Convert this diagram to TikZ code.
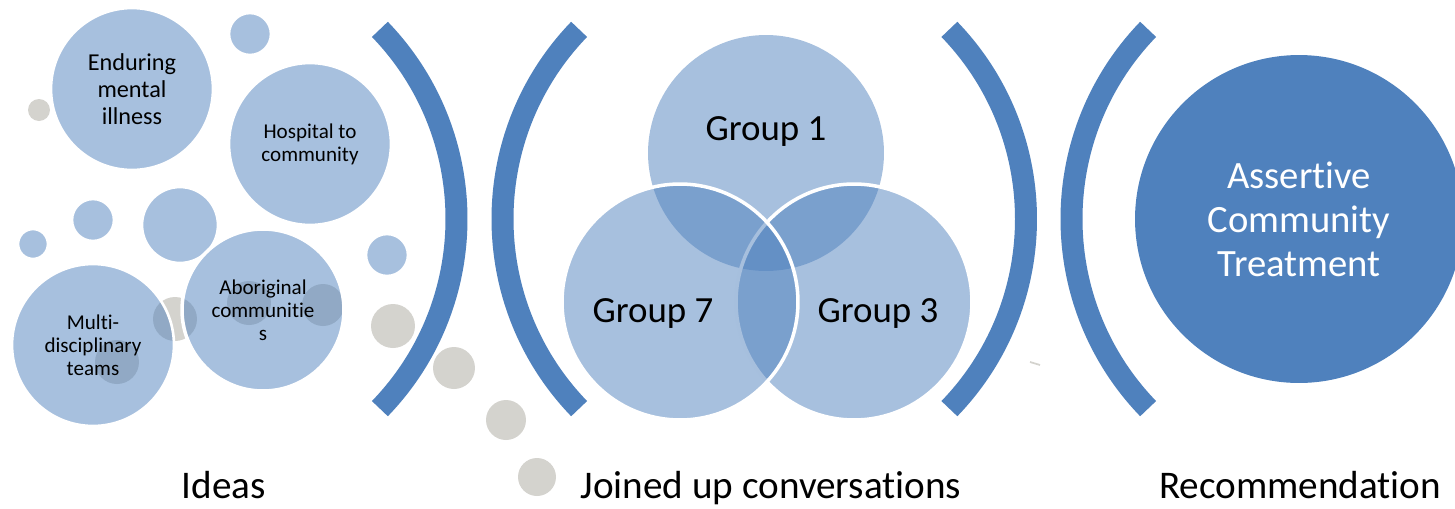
\documentclass[tikz,border=0pt]{standalone}
\usepackage{fontspec}
\setmainfont{Carlito}[Ligatures=NoCommon]
\usepackage{tikz}
\definecolor{blue1}{HTML}{4F81BD}
\definecolor{gray1}{HTML}{D4D3CE}

\begin{document}
\begin{tikzpicture}[x=0.02cm, y=-0.02cm]
\tikzstyle{bubble} = [circle, inner sep=0pt, fill=blue1, fill opacity=0.5, text opacity=1, draw=white, line width=1.5pt, align=center, font=\fontsize{12}{13.1}\selectfont]
\tikzstyle{dot} = [circle, inner sep=0pt, fill=gray1]
\tikzstyle{bracket} = [blue1, line width=0.44cm, preaction={draw=white, line width=0.56cm}]
\tikzstyle{venntext} = [anchor=base, inner sep=0pt, font=\fontsize{21}{25}\selectfont]
\tikzstyle{footer} = [anchor=base, inner sep=0pt, font=\fontsize{22.3}{26}\selectfont]

\useasboundingbox (0,0) rectangle (1455,508);

\node [dot, minimum size=0.44cm] (d1) at (39,110) {};
\node [dot, minimum size=0.88cm] (d2) at (175,319) {};
\node [dot, minimum size=0.88cm] (d3) at (117,362) {};
\node [dot, minimum size=0.88cm] (d4) at (249,303) {};
\node [dot, minimum size=0.84cm] (d5) at (323,305) {};
\node [dot, minimum size=0.88cm] (d6) at (393,326) {};
\node [dot, minimum size=0.84cm] (d7) at (454,368) {};
\node [dot, minimum size=0.80cm] (d8) at (506,420) {};
\node [dot, minimum size=0.76cm] (d9) at (537,477) {};

\node [bubble, minimum size=0.84cm] (s1) at (250,34) {};
\node [bubble, minimum size=0.84cm] (s2) at (93,220) {};
\node [bubble, minimum size=0.60cm] (s3) at (33,244) {};
\node [bubble, minimum size=1.52cm] (s4) at (180,225) {};
\node [bubble, minimum size=0.84cm] (s5) at (387,255) {};

\node [bubble, minimum size=3.24cm, font=\fontsize{13.8}{15.4}\selectfont] (illness) at (132,89) {Enduring\\mental\\illness};
\node [bubble, minimum size=3.24cm] (hospital) at (310,144) {Hospital to\\community};
\node [bubble, minimum size=3.24cm] (teams) at (93,345) {Multi-\\disciplinary\\teams};
\node [bubble, minimum size=3.24cm, line width=2pt] (aboriginal) at (263,310) {Aboriginal\\communitie\\s};

\node [bubble, minimum size=4.72cm, draw=none] (g1) at (766,153) {};
\node [bubble, minimum size=4.72cm, line width=2pt] (g3) at (854,302) {};
\node [bubble, minimum size=4.72cm, line width=2pt] (g7) at (680,302) {};
\node [venntext] (g1text) at (766,140) {Group 1};
\node [venntext] (g7text) at (653,322) {Group 7};
\node [venntext] (g3text) at (878,322) {Group 3};

\node [bubble, fill opacity=1, draw=none, minimum size=6.56cm, text=white, font=\fontsize{22}{25}\selectfont] (act) at (1299,219) {Assertive\\Community\\Treatment};

\coordinate (b1) at (183.5,219);
\coordinate (b2) at (775.5,219);
\coordinate (b3) at (753,219);
\coordinate (b4) at (1344.5,219);
\draw [bracket] (b1) ++(-44:273) arc [start angle=-44, end angle=44, radius=273];
\draw [bracket] (b2) ++(136:273) arc [start angle=136, end angle=224, radius=273];
\draw [bracket] (b3) ++(-44:273) arc [start angle=-44, end angle=44, radius=273];
\draw [bracket] (b4) ++(136:273) arc [start angle=136, end angle=224, radius=273];

\draw [gray1, line width=1pt] (1030,362) -- (1040,365);

\node [footer] (ideas) at (224,498) {Ideas};
\node [footer] (talks) at (771,498) {Joined up conversations};
\node [footer] (advice) at (1300,498) {Recommendation};
\end{tikzpicture}
\end{document}
